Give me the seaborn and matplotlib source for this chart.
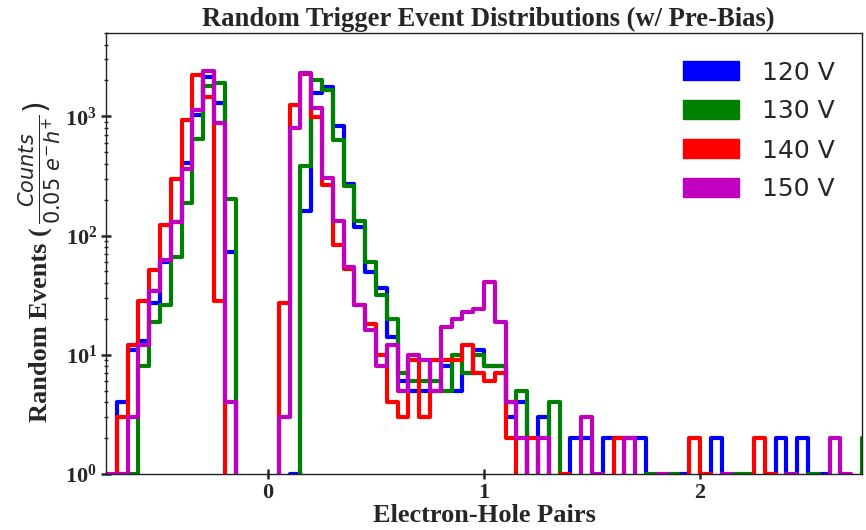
import numpy as np
import pandas as pd
import matplotlib
matplotlib.use("Agg")
import matplotlib.pyplot as plt
from matplotlib.patches import Patch
from matplotlib.transforms import Affine2D
import seaborn as sns

# Bin edges: 0.05 e-h+ wide, from -0.75 to 3.0
edges = np.round(np.arange(-0.75, 3.0001, 0.05), 2)
centers = (edges[:-1] + edges[1:]) / 2

labels = ["120 V", "130 V", "140 V", "150 V"]
colors = ["#0000ff", "#008000", "#ff0000", "#bf00bf"]

counts_120 = [0, 4, 11, 13, 27, 60, 130, 408, 1020, 2142,
              1303, 73, 0, 0, 0, 0, 0, 1, 162, 1581,
              1763, 829, 272, 118, 49, 36, 14, 6, 5, 5,
              5, 8, 5, 7, 11, 8, 8, 3, 4, 0,
              3, 0, 0, 2, 2, 0, 2, 2, 2, 2,
              0, 0, 0, 1, 0, 0, 2, 0, 0, 0,
              0, 0, 2, 0, 2, 0, 1, 0, 0, 0,
              0, 0, 0, 0, 0]
counts_130 = [0, 0, 1, 8, 19, 26, 66, 186, 649, 1798,
              1893, 201, 0, 0, 0, 0, 0, 0, 383, 2008,
              1653, 632, 260, 132, 60, 32, 20, 7, 6, 6,
              6, 5, 10, 7, 10, 8, 8, 4, 5, 0,
              0, 4, 0, 0, 0, 0, 0, 0, 0, 0,
              1, 0, 1, 0, 0, 0, 0, 0, 1, 1,
              0, 0, 0, 0, 0, 1, 0, 0, 0, 0,
              2, 0, 0, 0, 0]
counts_140 = [0, 3, 12, 28, 51, 122, 299, 937, 2240, 1445,
              28, 0, 0, 0, 0, 0, 27, 1245, 2254, 993,
              268, 84, 52, 26, 18, 10, 4, 3, 9, 3,
              9, 9, 9, 12, 7, 6, 7, 2, 0, 2,
              0, 0, 1, 0, 0, 0, 0, 2, 0, 0,
              0, 0, 0, 0, 2, 1, 0, 0, 0, 0,
              2, 1, 0, 0, 0, 0, 0, 0, 0, 0,
              0, 0, 0, 0, 0]
counts_150 = [1, 1, 3, 12, 34, 62, 130, 359, 1123, 2404,
              885, 4, 0, 0, 0, 0, 3, 793, 2328, 1183,
              305, 132, 55, 26, 16, 8, 12, 5, 10, 9,
              5, 17, 20, 23, 24, 41, 19, 4, 2, 0,
              2, 0, 0, 0, 3, 1, 0, 0, 2, 0,
              0, 1, 0, 0, 0, 0, 0, 1, 0, 0,
              0, 0, 0, 1, 0, 0, 0, 2, 1, 0,
              0, 0, 0, 0, 0]
series = [counts_120, counts_130, counts_140, counts_150]

sns.set_style("ticks")
plt.rcParams["font.family"] = ["Liberation Serif", "DejaVu Serif"]
plt.rcParams["font.weight"] = "normal"
plt.rcParams["mathtext.fontset"] = "custom"
plt.rcParams["mathtext.rm"] = "DejaVu Sans:normal"
plt.rcParams["mathtext.it"] = "DejaVu Sans:italic:normal"
plt.rcParams["mathtext.bf"] = "DejaVu Sans:bold"

W, H = 866, 530
fig = plt.figure(figsize=(W / 100, H / 100), dpi=100)
ax = fig.add_axes([106 / W, 56 / H, 756 / W, 441 / H])

bin_list = [float(e) for e in edges]
for counts, color in zip(series, colors):
    df = pd.DataFrame({"pairs": centers, "events": np.asarray(counts, dtype=float)})
    sns.histplot(data=df, x="pairs", weights="events", bins=bin_list,
                 element="step", fill=False, color=color, linewidth=3, ax=ax)

ax.set_yscale("log")
ax.set_ylim(1, 5000)
ax.set_xlim(-0.75, 2.75)
ax.set_xticks([0, 1, 2])

ax.set_title("Random Trigger Event Distributions (w/ Pre-Bias)",
             fontsize=19.2, fontweight="bold", pad=5, x=0.506)
ax.set_xlabel("Electron-Hole Pairs", fontsize=19, fontweight="bold", labelpad=1)
ax.set_ylabel("")

# y-axis label: bold serif words followed by a larger math fraction
px = Affine2D().scale(1 / W, 1 / H) + fig.transFigure
ylab_words = fig.text(47, 530 - 422, "Random Events (", transform=px,
                      rotation=90, rotation_mode="anchor", ha="left", va="baseline",
                      fontsize=19, fontweight="bold")
fig.canvas.draw()
bb = ylab_words.get_window_extent()
fig.text(47, bb.y1 + 3, r"$\frac{Counts}{0.05\ e^{-}h^{+}})$", transform=px,
         rotation=90, rotation_mode="anchor", ha="left", va="baseline",
         fontsize=21.5)

ax.tick_params(axis="both", which="major", direction="inout", length=7, width=1.8,
               labelsize=16, pad=3)
ax.tick_params(axis="y", which="minor", direction="inout", length=3.5, width=1)
for lbl in ax.get_xticklabels() + ax.get_yticklabels():
    lbl.set_fontweight("bold")

for side in ["left", "bottom", "top", "right"]:
    ax.spines[side].set_visible(True)
    ax.spines[side].set_linewidth(1.0)
    ax.spines[side].set_color("#222222")

handles = [Patch(facecolor=c, edgecolor=c) for c in colors]
ax.legend(handles, labels, loc="upper right", frameon=False,
          prop={"family": "DejaVu Sans", "size": 18, "weight": "normal"},
          handlelength=2.25, handleheight=0.8, labelspacing=0.6,
          handletextpad=0.9, borderaxespad=0.7)

fig.savefig("out.png", dpi=100)
